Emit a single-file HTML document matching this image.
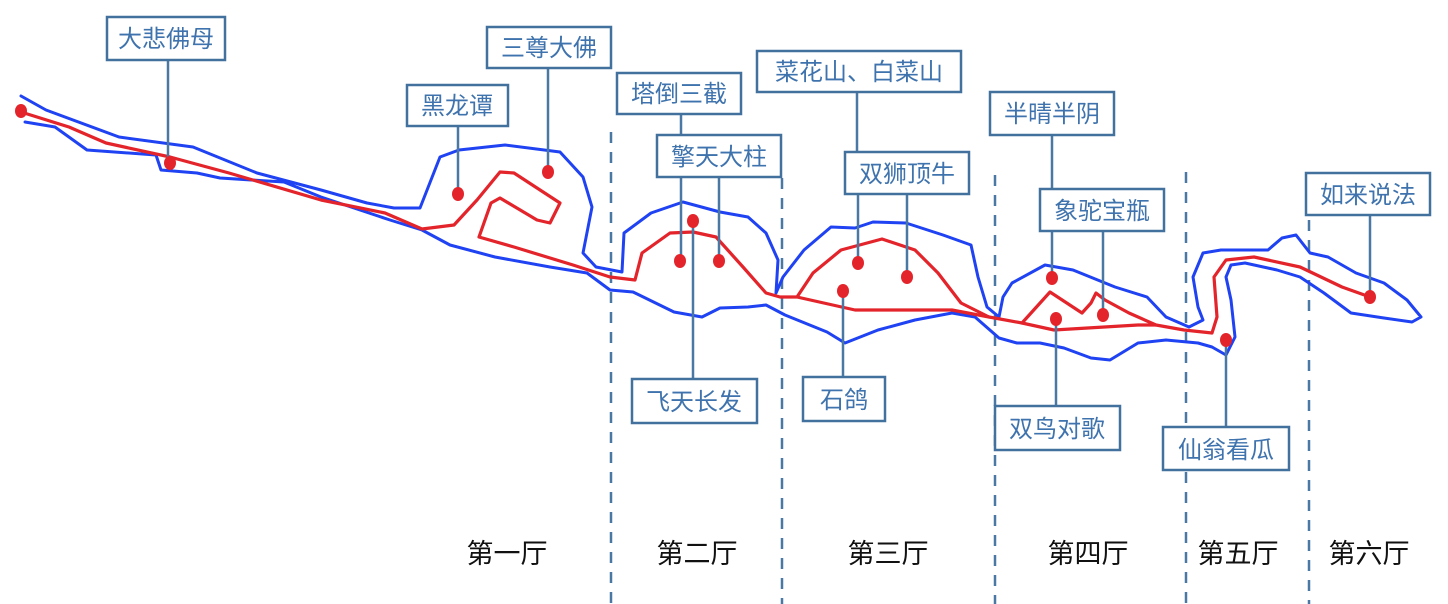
<!DOCTYPE html>
<html><head><meta charset="utf-8"><style>
html,body{margin:0;padding:0;background:#fff;}
svg{display:block;}
.b{fill:#fff;stroke:#41719c;stroke-width:2.5;}
.t{font-family:"Liberation Sans","Noto Sans CJK SC",sans-serif;font-size:24px;fill:#3f73ad;text-anchor:middle;}
.h{font-family:"Liberation Sans","Noto Sans CJK SC",sans-serif;font-size:27px;fill:#111;text-anchor:middle;}
.l{stroke:#4a78a4;stroke-width:2.5;fill:none;}
.d{stroke:#4a78a4;stroke-width:2.5;stroke-dasharray:11,9;fill:none;}
.bl{fill:none;stroke:#1f42f2;stroke-width:3;stroke-linejoin:round;stroke-linecap:round;}
.rd{fill:none;stroke:#e3242b;stroke-width:3.2;stroke-linejoin:round;stroke-linecap:round;}
.dot{fill:#e3242b;}
</style></head><body>
<svg width="1448" height="604" viewBox="0 0 1448 604">
<path class="d" d="M611 132V604M782 178V604M995 175V604M1186 172V604M1309 220V604"/>
<polyline class="bl" points="21,96 46,110 119,137 193,147 257,173 321,190 367,203 394,208 420,208 440,157 459,150 505,145 560,152 583,177 592,207 583,253 596,267 622,272 624,233 651,213 683,202 720,212 748,217 766,233 778,260 776,293 783,277 804,250 831,227 855,228 873,222 906,223 943,235 971,245 978,277 987,307 999,317 1003,297 1012,283 1045,265 1073,270 1115,287 1147,297 1166,317 1189,327 1203,320 1198,307 1193,277 1203,253 1221,250 1268,250 1282,238 1296,235 1310,253 1328,257 1356,273 1384,283 1407,300 1421,317 1412,322 1384,318 1351,313 1324,293 1300,277 1277,270 1245,263 1231,265 1226,277 1231,300 1235,337 1226,355 1212,347 1198,343 1166,340 1138,343 1110,360 1091,358 1064,348 1040,343 1017,343 999,338 975,317 952,313 915,320 878,330 845,343 827,332 785,315 766,305 748,307 720,308 702,317 674,312 633,292 610,290 587,273 550,267 495,257 450,245 422,230 390,220 321,197 284,182 220,178 197,173 161,170 156,155 87,150 55,127 25,122"/>
<polyline class="rd" points="21,112 69,127 106,143 170,157 229,173 321,200 385,213 422,229 454,225 477,200 500,172 514,173 560,203 550,223 537,220 500,198 491,203 479,237 514,247 573,265 610,277 635,280 642,253 670,233 693,232 716,237 743,267 766,293 780,297 797,297 813,273 841,250 882,239 915,250 938,273 961,303 989,317 1022,323 1050,292 1082,313 1091,303 1096,293 1105,300 1129,313 1156,325 1184,330 1212,333 1217,317 1214,277 1226,260 1254,257 1300,267 1342,287 1370,297"/>
<polyline class="rd" points="797,297 855,310 952,310 989,317"/>
<polyline class="rd" points="1022,323 1054,330 1138,325 1156,325"/>
<path class="l" d="M168 60V162M548 68V172M458 126V194M681 114V136M681 177V261M719 177V261M693 221V379M857 92V152M858 194V263M907 194V277M843 291V377M1052 135V189M1052 231V278M1103 231V315M1056 319V406M1226 340V427M1370 215V297"/>
<g class="dot">
<ellipse cx="21" cy="111" rx="6" ry="7"/>
<ellipse cx="170" cy="163" rx="6" ry="7"/>
<ellipse cx="548" cy="172" rx="6" ry="7"/>
<ellipse cx="458" cy="194" rx="6" ry="7"/>
<ellipse cx="680" cy="261" rx="6" ry="7"/>
<ellipse cx="719" cy="261" rx="6" ry="7"/>
<ellipse cx="693" cy="221" rx="6" ry="7"/>
<ellipse cx="858" cy="263" rx="6" ry="7"/>
<ellipse cx="907" cy="277" rx="6" ry="7"/>
<ellipse cx="843" cy="291" rx="6" ry="7"/>
<ellipse cx="1052" cy="278" rx="6" ry="7"/>
<ellipse cx="1103" cy="315" rx="6" ry="7"/>
<ellipse cx="1056" cy="319" rx="6" ry="7"/>
<ellipse cx="1226" cy="340" rx="6" ry="7"/>
<ellipse cx="1370" cy="297" rx="6" ry="7"/>
</g>
<rect class="b" x="107" y="17" width="118" height="43"/><text class="t" x="166" y="47">大悲佛母</text>
<rect class="b" x="487" y="27" width="124" height="41"/><text class="t" x="549" y="56">三尊大佛</text>
<rect class="b" x="407" y="85" width="101" height="41"/><text class="t" x="457" y="114">黑龙谭</text>
<rect class="b" x="617" y="73" width="124" height="41"/><text class="t" x="679" y="102">塔倒三截</text>
<rect class="b" x="657" y="135" width="124" height="42"/><text class="t" x="719" y="165">擎天大柱</text>
<rect class="b" x="632" y="379" width="125" height="44"/><text class="t" x="694" y="410">飞天长发</text>
<rect class="b" x="757" y="51" width="204" height="41"/><text class="t" x="859" y="80">菜花山、白菜山</text>
<rect class="b" x="845" y="152" width="124" height="42"/><text class="t" x="907" y="182">双狮顶牛</text>
<rect class="b" x="803" y="377" width="82" height="44"/><text class="t" x="844" y="408">石鸽</text>
<rect class="b" x="990" y="92" width="124" height="43"/><text class="t" x="1052" y="122">半晴半阴</text>
<rect class="b" x="1040" y="189" width="124" height="42"/><text class="t" x="1102" y="219">象驼宝瓶</text>
<rect class="b" x="995" y="406" width="125" height="44"/><text class="t" x="1057" y="437">双鸟对歌</text>
<rect class="b" x="1163" y="427" width="126" height="43"/><text class="t" x="1226" y="458">仙翁看瓜</text>
<rect class="b" x="1306" y="173" width="124" height="42"/><text class="t" x="1368" y="203">如来说法</text>
<text class="h" x="507" y="563">第一厅</text>
<text class="h" x="697" y="563">第二厅</text>
<text class="h" x="888" y="563">第三厅</text>
<text class="h" x="1088" y="563">第四厅</text>
<text class="h" x="1238" y="563">第五厅</text>
<text class="h" x="1369" y="563">第六厅</text>
</svg>
</body></html>
